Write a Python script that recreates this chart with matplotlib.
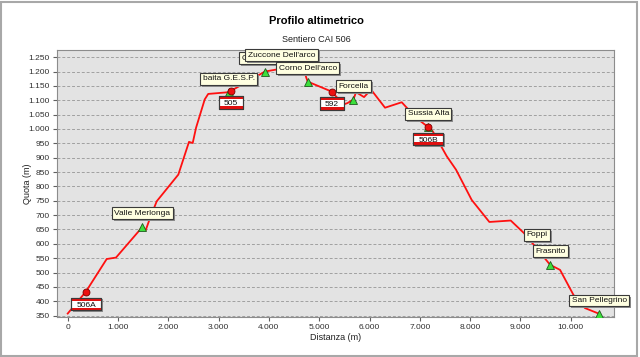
import matplotlib
matplotlib.use('Agg')

import matplotlib.pyplot as plt
import matplotlib.transforms as mtransforms
from matplotlib.patches import Rectangle
from matplotlib.ticker import FuncFormatter, MultipleLocator

plt.rcParams['font.family'] = ['Liberation Sans', 'DejaVu Sans']

# profilo del sentiero (distanza m, quota m)
dist = [0, 364, 775, 960, 1437, 1483, 1550, 1625, 1769, 2199, 2411, 2485,
        2551, 2724, 2793, 3199, 3239, 3922, 4250, 4690, 4740, 4770, 5249,
        5479, 5560, 5678, 5732, 5891, 6030, 6308, 6640, 6740, 6970, 7169,
        7256, 7535, 7720, 8030, 8382, 8807, 9072, 9323, 9589, 9788, 10054,
        10284, 10568]
quota = [357, 434, 547, 552, 649, 660, 647, 684, 748, 841, 955, 951,
         1004, 1103, 1122, 1128, 1132, 1200, 1210, 1214, 1180, 1165, 1130,
         1085, 1090, 1102, 1128, 1111, 1137, 1074, 1093, 1074, 1033, 1006,
         992, 905, 858, 753, 676, 681, 637, 584, 527, 509, 422,
         376, 356]

# bivi con altri sentieri CAI
sign_dist = [364, 3239, 5249, 7169]
sign_quota = [431, 1133, 1130, 1006]
sign_labels = ['506A', '505', '592', '506B']

# punti notevoli
wp_dist = [1483, 3199, 3922, 4250, 4770, 5678, 7169, 9323, 9589, 10568]
wp_quota = [660, 1128, 1200, 1210, 1165, 1102, 1006, 584, 527, 356]
wp_names = ['Valle Merlonga', 'baita G.E.S.P.', "Ca' Zuccone", "Zuccone Dell'arco",
            "Corno Dell'arco", 'Forcella', 'Sussia Alta', 'Foppi', 'Frasnito',
            'San Pellegrino']

fig = plt.figure(figsize=(6.4, 3.57), dpi=100)
fig.patches.append(Rectangle((0.002, 0.004), 0.994, 0.99, transform=fig.transFigure,
                             fill=False, ec='#a8a8a8', lw=1.5))

ax = fig.add_axes([57 / 640, 40 / 357, 557 / 640, 267 / 357])
ax.set_facecolor('#e3e3e3')
ax.set_xlim(-213, 10860)
ax.set_ylim(345, 1275)

ax.xaxis.set_major_locator(MultipleLocator(1000))
thousands = FuncFormatter(lambda v, p: f"{int(round(v)):,}".replace(',', '.'))
ax.xaxis.set_major_formatter(thousands)
ax.yaxis.set_major_formatter(thousands)
ax.set_yticks(range(350, 1251, 50))

ax.yaxis.grid(True, ls=(0, (3, 2)), color='#a0a0a0', lw=0.7)
ax.set_axisbelow(True)
for s in ax.spines.values():
    s.set_color('#8c8c8c')
ax.tick_params(direction='out', length=3, width=0.8, color='#606060',
               labelsize=6, labelcolor='#303030', pad=2)

ax.set_xlabel('Distanza (m)', fontsize=6.5, color='#202020')
ax.set_ylabel('Quota (m)', fontsize=6.5, color='#202020')
ax.xaxis.set_label_coords(0.5, -0.06)
ax.yaxis.set_label_coords(-0.045, 0.5)

fig.text(316 / 640, 1 - 21 / 357, 'Profilo altimetrico', ha='center', va='center',
         fontsize=8, fontweight='bold')
fig.text(316 / 640, 1 - 39.5 / 357, 'Sentiero CAI 506', ha='center', va='center',
         fontsize=6.5, color='#202020')

ax.plot(dist, quota, color='#ff1010', lw=1.3, zorder=3)
ax.plot(wp_dist, wp_quota, '^', ms=5.5, mfc='#3ce03c', mec='#1e5a1e', mew=0.6,
        ls='none', zorder=4)
ax.plot(sign_dist, sign_quota, 'o', ms=5, mfc='#ee1111', mec='#7a0000', mew=0.6,
        ls='none', zorder=5)

# etichette dei punti
z = 10
for d, q, name in zip(wp_dist, wp_quota, wp_names):
    ax.annotate(name, (d, q), xytext=(2, 8), textcoords='offset pixels',
                ha='center', va='bottom', fontsize=6, color='none',
                bbox=dict(boxstyle='square,pad=0.28', fc='#8c8c8c', ec='none'),
                zorder=z)
    ax.annotate(name, (d, q), xytext=(0, 10), textcoords='offset pixels',
                ha='center', va='bottom', fontsize=6, color='#111111',
                bbox=dict(boxstyle='square,pad=0.28', fc='#ffffe1', ec='#3a3a3a', lw=0.8),
                zorder=z + 1)
    z += 2

# cartelli bianco-rossi
for d, q, lab in zip(sign_dist, sign_quota, sign_labels):
    trans = fig.dpi_scale_trans + mtransforms.ScaledTranslation(d, q, ax.transData)
    w = (6 * len(lab) + 6) / 100
    h = 12.5 / 100
    top = -5.5 / 100
    ax.add_patch(Rectangle((-w / 2 + 0.015, top - h - 0.015), w, h, transform=trans,
                           fc='#8c8c8c', ec='none', zorder=z))
    ax.add_patch(Rectangle((-w / 2, top - h), w, h, transform=trans,
                           fc='white', ec='#3a3a3a', lw=0.8, zorder=z + 1))
    ax.add_patch(Rectangle((-w / 2, top - 0.028), w, 0.028, transform=trans,
                           fc='#e01010', ec='none', zorder=z + 2))
    ax.add_patch(Rectangle((-w / 2, top - h), w, 0.028, transform=trans,
                           fc='#e01010', ec='none', zorder=z + 2))
    ax.add_patch(Rectangle((-w / 2, top - h), w, h, transform=trans,
                           fill=False, ec='#3a3a3a', lw=0.8, zorder=z + 3))
    ax.text(0, top - 0.089, lab, transform=trans, ha='center', va='baseline',
            fontsize=6, color='#111111', zorder=z + 4)
    z += 5

fig.savefig('out.png', dpi=100)
